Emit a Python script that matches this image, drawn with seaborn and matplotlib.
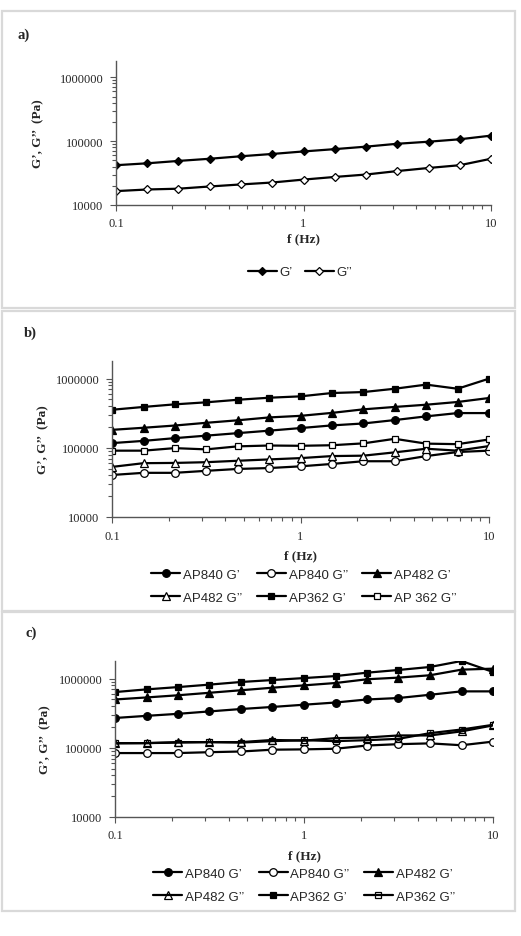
import numpy as np
import pandas as pd
import matplotlib
matplotlib.use("Agg")
import matplotlib.pyplot as plt
import seaborn as sns
from matplotlib.patches import Rectangle
from matplotlib.ticker import FixedLocator, FixedFormatter, NullFormatter

# Frecuencias (Hz)
freq = [0.1, 0.147, 0.215, 0.316, 0.464, 0.681, 1.0, 1.468, 2.154, 3.162, 4.642, 6.813, 10.0]

# Panel a)
a_g1 = [42000, 45000, 49000, 53000, 58000, 63000, 69000, 75000, 82000, 91000, 98000, 107000, 122000]
a_g2 = [16500, 17500, 18000, 19500, 21000, 22500, 25000, 27500, 30000, 34000, 38000, 42000, 53000]

# Panel b)
b_ap840_g1 = [117000, 126000, 138000, 150000, 163000, 177000, 193000, 211000, 225000, 252000, 285000, 318000, 318000]
b_ap840_g2 = [40500, 43500, 43500, 46500, 49500, 51000, 54000, 58500, 64000, 64000, 76000, 87000, 91000]
b_ap482_g1 = [182000, 195000, 210000, 230000, 250000, 275000, 290000, 320000, 360000, 390000, 420000, 460000, 525000]
b_ap482_g2 = [53000, 60000, 60500, 62000, 65000, 68000, 71000, 76000, 77000, 86000, 97000, 91000, 106000]
b_ap362_g1 = [355000, 390000, 425000, 455000, 495000, 530000, 555000, 620000, 640000, 715000, 820000, 715000, 1000000]
b_ap362_g2 = [91000, 91000, 99000, 95000, 105000, 108000, 107000, 109000, 116000, 135000, 115000, 113000, 132000]

# Panel c)
c_ap840_g1 = [270000, 290000, 310000, 336000, 364000, 390000, 420000, 452000, 500000, 525000, 585000, 655000, 655000]
c_ap840_g2 = [84000, 84000, 84000, 86500, 88500, 94000, 95000, 97000, 108000, 113000, 116000, 109000, 123000]
c_ap482_g1 = [500000, 535000, 575000, 625000, 680000, 740000, 800000, 865000, 980000, 1035000, 1120000, 1350000, 1395000]
c_ap482_g2 = [117000, 117000, 121000, 121000, 121000, 130000, 127000, 138000, 141000, 151000, 151000, 173000, 211000]
c_ap362_g1 = [640000, 700000, 755000, 820000, 895000, 955000, 1020000, 1090000, 1220000, 1335000, 1475000, 1800000, 1250000]
c_ap362_g2 = [116000, 117000, 119000, 121000, 119000, 125000, 129000, 125000, 129000, 135000, 163000, 184000, 215000]

b_labels = ["AP840 G’", "AP840 G’’", "AP482 G’", "AP482 G’’", "AP362 G’", "AP 362 G’’"]
c_labels = ["AP840 G’", "AP840 G’’", "AP482 G’", "AP482 G’’", "AP362 G’", "AP362 G’’"]

sns.set_style("ticks")
plt.rcParams['font.family'] = ['Liberation Serif', 'DejaVu Serif']

W, H = 521, 937
fig = plt.figure(figsize=(W / 100, H / 100), dpi=100)

def fx(px):
    return px / W

def fy(py):
    return 1 - py / H

# Marcos de cada panel
for top, bot in [(12, 309), (312, 612), (613, 912)]:
    fig.add_artist(Rectangle((fx(2), fy(bot)), fx(513), (bot - top) / H, transform=fig.transFigure,
                             fill=False, edgecolor="#d9d9d9", linewidth=1.6))

def nueva_ax(left, right, top, bot):
    return fig.add_axes([fx(left), fy(bot), (right - left) / W, (bot - top) / H])

def estilo(ax, ylab_x, xlab_y):
    ax.set_xscale("log")
    ax.set_yscale("log")
    ax.set_xlim(0.1, 10)
    ax.set_ylim(10000, 1.8e6)
    sns.despine(ax=ax)
    for s in ["left", "bottom"]:
        ax.spines[s].set_color("#555555")
        ax.spines[s].set_linewidth(1.0)
    ax.xaxis.set_major_locator(FixedLocator([0.1, 1, 10]))
    ax.xaxis.set_major_formatter(FixedFormatter(["0.1", "1", "10"]))
    ax.xaxis.set_minor_locator(FixedLocator([m * d for d in [0.1, 1] for m in range(2, 10)]))
    ax.xaxis.set_minor_formatter(NullFormatter())
    ax.yaxis.set_major_locator(FixedLocator([10000, 100000, 1000000]))
    ax.yaxis.set_major_formatter(FixedFormatter(["10000", "100000", "1000000"]))
    ax.yaxis.set_minor_locator(FixedLocator([m * d for d in [10000, 100000, 1000000] for m in range(2, 10)]))
    ax.yaxis.set_minor_formatter(NullFormatter())
    ax.tick_params(which="both", direction="out", color="#555555", width=0.8, labelsize=9, pad=5)
    ax.tick_params(which="major", length=4)
    ax.tick_params(which="minor", length=3)
    ax.set_xlabel("f (Hz)", fontsize=9.5, fontweight="bold")
    ax.set_ylabel("G’, G’’  (Pa)", fontsize=9.5, fontweight="bold")
    ax.xaxis.set_label_coords(0.5, xlab_y)
    ax.yaxis.set_label_coords(ylab_x, 0.5)

def serie(ax, y, marker, ms, fill, label):
    sns.lineplot(x=freq, y=y, ax=ax, color="black", linewidth=1.6, marker=marker, markersize=ms,
                 markerfacecolor=fill, markeredgecolor="black", markeredgewidth=0.9, label=label,
                 legend=False)

legend_font = {'family': ['Liberation Sans', 'DejaVu Sans'], 'size': 9.5}

# ---------- a) ----------
ax_a = nueva_ax(116, 491, 62, 206)
serie(ax_a, a_g1, "D", 4.5, "black", "G’")
serie(ax_a, a_g2, "D", 4.5, "white", "G’’")
estilo(ax_a, -0.192, -0.19)
ax_a.legend(handles=ax_a.get_lines()[:2], labels=["G’", "G’’"], loc="center",
            bbox_to_anchor=(fx(300), fy(273)), bbox_transform=fig.transFigure, ncol=2,
            frameon=False, prop=legend_font, handlelength=2.2, columnspacing=0.9, handletextpad=0.2)
fig.text(fx(17), fy(35), "a)", fontsize=10.5, fontweight="bold", va="center")

# ---------- b) y c) ----------
def panel_multi(ax, datos, etiquetas, abiertos_fill):
    marcadores = [("o", 5.5, "black"), ("o", 5.5, "white"), ("^", 5.5, "black"),
                  ("^", 5.5, abiertos_fill), ("s", 5.0, "black"), ("s", 5.0, abiertos_fill)]
    for y, (m, ms, fc), lab in zip(datos, marcadores, etiquetas):
        serie(ax, y, m, ms, fc, lab)

ax_b = nueva_ax(112, 489, 362, 518)
panel_multi(ax_b, [b_ap840_g1, b_ap840_g2, b_ap482_g1, b_ap482_g2, b_ap362_g1, b_ap362_g2], b_labels, "white")
estilo(ax_b, -0.167, -0.21)
fig.text(fx(24), fy(333), "b)", fontsize=10.5, fontweight="bold", va="center")

ax_c = nueva_ax(115, 493, 662, 818)
panel_multi(ax_c, [c_ap840_g1, c_ap840_g2, c_ap482_g1, c_ap482_g2, c_ap362_g1, c_ap362_g2], c_labels, "none")
estilo(ax_c, -0.169, -0.21)
fig.text(fx(26), fy(633), "c)", fontsize=10.5, fontweight="bold", va="center")

orden = [0, 3, 1, 4, 2, 5]
for ax, labs, yc in [(ax_b, b_labels, 587), (ax_c, c_labels, 886)]:
    lines = ax.get_lines()[:6]
    ax.legend(handles=[lines[i] for i in orden], labels=[labs[i] for i in orden], loc="center",
              bbox_to_anchor=(fx(304), fy(yc)), bbox_transform=fig.transFigure, ncol=3,
              frameon=False, prop=legend_font, handlelength=2.2, columnspacing=1.1,
              handletextpad=0.2, labelspacing=0.8)

fig.savefig("out.png", dpi=100, facecolor="white")
